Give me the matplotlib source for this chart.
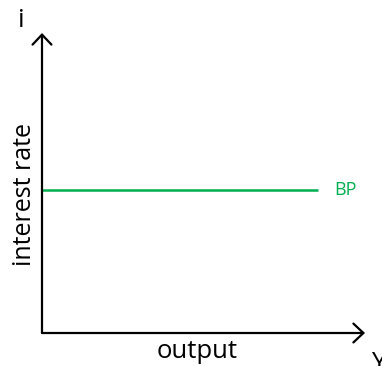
import matplotlib.pyplot as plt
import matplotlib as mpl

mpl.rcParams.update({
    "font.family": ["Open Sans", "DejaVu Sans"],
})

# data (arbitrary units: output 0..10, interest rate 0..10)
bp_x = [0.0, 8.55]
bp_y = [4.77, 4.77]
bp_label = "BP"
x_label = "output"
y_label = "interest rate"
x_sym = "Y"
y_sym = "i"

green = "#00b050"

fig = plt.figure(figsize=(3.82, 3.66), dpi=100)
ax = fig.add_axes([42 / 382, 33 / 366, 323 / 382, 300 / 366])
ax.set_xlim(0, 10)
ax.set_ylim(0, 10)
ax.axis("off")

# axes with arrow heads
arrow = dict(arrowstyle="->,head_length=0.36,head_width=0.34",
             color="black", lw=1.6, mutation_scale=20,
             shrinkA=0, shrinkB=0)
ax.annotate("", xy=(0, 10), xytext=(0, 0), arrowprops=arrow,
            annotation_clip=False)
ax.annotate("", xy=(10, 0), xytext=(0, 0), arrowprops=arrow,
            annotation_clip=False)

# BP line
ax.plot(bp_x, bp_y, color=green, lw=1.8, solid_capstyle="butt", clip_on=False)
ax.text(bp_x[1] + 0.5, bp_y[1], bp_label, color=green, fontsize=13,
        va="center", ha="left")

# labels
ax.text(4.8, -0.2, x_label, fontsize=18.5, ha="center", va="top")
ax.text(-0.55, 4.63, y_label, fontsize=18, ha="center", va="center",
        rotation=90)
ax.text(-0.63, 10.43, y_sym, fontsize=19, ha="center", va="center")
ax.text(10.2, -0.6, x_sym, fontsize=19, ha="left", va="top")

fig.savefig("out.png", dpi=100)
